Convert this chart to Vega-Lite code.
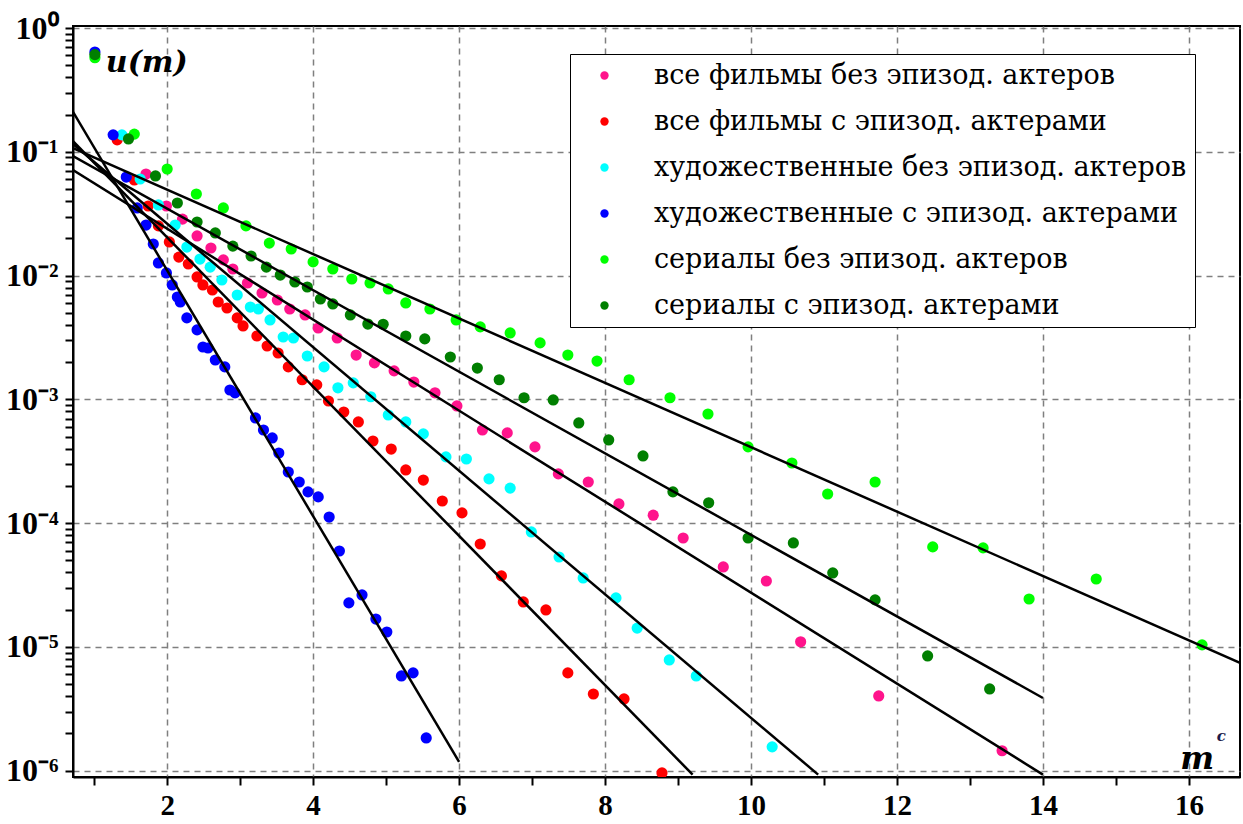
{
  "$schema": "https://vega.github.io/schema/vega-lite/v6.json",
  "width": 1167,
  "height": 751,
  "autosize": {"type": "none"},
  "padding": {"left": 73, "top": 26, "right": 3, "bottom": 47},
  "background": "white",
  "config": {"view": {"stroke": "black", "strokeWidth": 2}, "font": "Times New Roman"},
  "datasets": {
    "points": [
      {"s": "все фильмы без эпизод. актеров", "x": 1.71, "y": 0.0662},
      {"s": "все фильмы без эпизод. актеров", "x": 1.99, "y": 0.0365},
      {"s": "все фильмы без эпизод. актеров", "x": 2.21, "y": 0.0286},
      {"s": "все фильмы без эпизод. актеров", "x": 2.41, "y": 0.0209},
      {"s": "все фильмы без эпизод. актеров", "x": 2.60, "y": 0.0167},
      {"s": "все фильмы без эпизод. актеров", "x": 2.77, "y": 0.0134},
      {"s": "все фильмы без эпизод. актеров", "x": 2.90, "y": 0.0113},
      {"s": "все фильмы без эпизод. актеров", "x": 3.10, "y": 0.00871},
      {"s": "все фильмы без эпизод. актеров", "x": 3.30, "y": 0.00723},
      {"s": "все фильмы без эпизод. актеров", "x": 3.51, "y": 0.00635},
      {"s": "все фильмы без эпизод. актеров", "x": 3.68, "y": 0.00537},
      {"s": "все фильмы без эпизод. актеров", "x": 3.89, "y": 0.00481},
      {"s": "все фильмы без эпизод. актеров", "x": 4.07, "y": 0.00377},
      {"s": "все фильмы без эпизод. актеров", "x": 4.33, "y": 0.00313},
      {"s": "все фильмы без эпизод. актеров", "x": 4.59, "y": 0.00228},
      {"s": "все фильмы без эпизод. актеров", "x": 4.84, "y": 0.00197},
      {"s": "все фильмы без эпизод. актеров", "x": 5.11, "y": 0.00170},
      {"s": "все фильмы без эпизод. актеров", "x": 5.38, "y": 0.00138},
      {"s": "все фильмы без эпизод. актеров", "x": 5.67, "y": 0.00113},
      {"s": "все фильмы без эпизод. актеров", "x": 5.97, "y": 0.000885},
      {"s": "все фильмы без эпизод. актеров", "x": 6.32, "y": 0.000566},
      {"s": "все фильмы без эпизод. актеров", "x": 6.66, "y": 0.000536},
      {"s": "все фильмы без эпизод. актеров", "x": 7.04, "y": 0.000413},
      {"s": "все фильмы без эпизод. актеров", "x": 7.36, "y": 0.000250},
      {"s": "все фильмы без эпизод. актеров", "x": 7.77, "y": 0.000215},
      {"s": "все фильмы без эпизод. актеров", "x": 8.19, "y": 0.000143},
      {"s": "все фильмы без эпизод. актеров", "x": 8.66, "y": 0.000116},
      {"s": "все фильмы без эпизод. актеров", "x": 9.07, "y": 0.0000759},
      {"s": "все фильмы без эпизод. актеров", "x": 9.62, "y": 0.0000443},
      {"s": "все фильмы без эпизод. актеров", "x": 10.21, "y": 0.0000341},
      {"s": "все фильмы без эпизод. актеров", "x": 10.68, "y": 0.0000110},
      {"s": "все фильмы без эпизод. актеров", "x": 11.75, "y": 0.00000402},
      {"s": "все фильмы без эпизод. актеров", "x": 13.44, "y": 0.00000145},

      {"s": "все фильмы с эпизод. актерами", "x": 1.315, "y": 0.125},
      {"s": "все фильмы с эпизод. актерами", "x": 1.55, "y": 0.0592},
      {"s": "все фильмы с эпизод. актерами", "x": 1.74, "y": 0.0365},
      {"s": "все фильмы с эпизод. актерами", "x": 1.88, "y": 0.0252},
      {"s": "все фильмы с эпизод. актерами", "x": 2.03, "y": 0.0187},
      {"s": "все фильмы с эпизод. актерами", "x": 2.16, "y": 0.0141},
      {"s": "все фильмы с эпизод. актерами", "x": 2.29, "y": 0.0124},
      {"s": "все фильмы с эпизод. актерами", "x": 2.41, "y": 0.00975},
      {"s": "все фильмы с эпизод. актерами", "x": 2.49, "y": 0.00840},
      {"s": "все фильмы с эпизод. актерами", "x": 2.62, "y": 0.00765},
      {"s": "все фильмы с эпизод. актерами", "x": 2.70, "y": 0.00612},
      {"s": "все фильмы с эпизод. актерами", "x": 2.82, "y": 0.00547},
      {"s": "все фильмы с эпизод. актерами", "x": 2.96, "y": 0.00455},
      {"s": "все фильмы с эпизод. актерами", "x": 3.04, "y": 0.00392},
      {"s": "все фильмы с эпизод. актерами", "x": 3.23, "y": 0.00325},
      {"s": "все фильмы с эпизод. актерами", "x": 3.37, "y": 0.00270},
      {"s": "все фильмы с эпизод. актерами", "x": 3.52, "y": 0.00237},
      {"s": "все фильмы с эпизод. актерами", "x": 3.66, "y": 0.00183},
      {"s": "все фильмы с эпизод. актерами", "x": 3.85, "y": 0.00144},
      {"s": "все фильмы с эпизод. актерами", "x": 4.05, "y": 0.00131},
      {"s": "все фильмы с эпизод. актерами", "x": 4.21, "y": 0.000970},
      {"s": "все фильмы с эпизод. актерами", "x": 4.42, "y": 0.000791},
      {"s": "все фильмы с эпизод. актерами", "x": 4.62, "y": 0.000657},
      {"s": "все фильмы с эпизод. актерами", "x": 4.82, "y": 0.000461},
      {"s": "все фильмы с эпизод. актерами", "x": 5.07, "y": 0.000397},
      {"s": "все фильмы с эпизод. актерами", "x": 5.27, "y": 0.000269},
      {"s": "все фильмы с эпизод. актерами", "x": 5.51, "y": 0.000223},
      {"s": "все фильмы с эпизод. актерами", "x": 5.77, "y": 0.000151},
      {"s": "все фильмы с эпизод. актерами", "x": 6.04, "y": 0.000121},
      {"s": "все фильмы с эпизод. актерами", "x": 6.29, "y": 0.0000679},
      {"s": "все фильмы с эпизод. актерами", "x": 6.58, "y": 0.0000375},
      {"s": "все фильмы с эпизод. актерами", "x": 6.88, "y": 0.0000231},
      {"s": "все фильмы с эпизод. актерами", "x": 7.19, "y": 0.0000199},
      {"s": "все фильмы с эпизод. актерами", "x": 7.49, "y": 0.00000617},
      {"s": "все фильмы с эпизод. актерами", "x": 7.84, "y": 0.00000417},
      {"s": "все фильмы с эпизод. актерами", "x": 8.26, "y": 0.00000380},
      {"s": "все фильмы с эпизод. актерами", "x": 8.78, "y": 0.00000096},

      {"s": "художественные без эпизод. актеров", "x": 1.38, "y": 0.137},
      {"s": "художественные без эпизод. актеров", "x": 1.63, "y": 0.0603},
      {"s": "художественные без эпизод. актеров", "x": 1.88, "y": 0.0372},
      {"s": "художественные без эпизод. актеров", "x": 2.11, "y": 0.0256},
      {"s": "художественные без эпизод. актеров", "x": 2.27, "y": 0.0170},
      {"s": "художественные без эпизод. актеров", "x": 2.45, "y": 0.0136},
      {"s": "художественные без эпизод. актеров", "x": 2.59, "y": 0.0117},
      {"s": "художественные без эпизод. актеров", "x": 2.75, "y": 0.00921},
      {"s": "художественные без эпизод. актеров", "x": 2.96, "y": 0.00697},
      {"s": "художественные без эпизод. актеров", "x": 3.14, "y": 0.00557},
      {"s": "художественные без эпизод. актеров", "x": 3.25, "y": 0.00537},
      {"s": "художественные без эпизод. актеров", "x": 3.41, "y": 0.00438},
      {"s": "художественные без эпизод. актеров", "x": 3.59, "y": 0.00319},
      {"s": "художественные без эпизод. актеров", "x": 3.73, "y": 0.00313},
      {"s": "художественные без эпизод. актеров", "x": 3.92, "y": 0.00224},
      {"s": "художественные без эпизод. актеров", "x": 4.15, "y": 0.00183},
      {"s": "художественные без эпизод. актеров", "x": 4.34, "y": 0.00124},
      {"s": "художественные без эпизод. актеров", "x": 4.55, "y": 0.00136},
      {"s": "художественные без эпизод. актеров", "x": 4.79, "y": 0.00105},
      {"s": "художественные без эпизод. актеров", "x": 5.03, "y": 0.000748},
      {"s": "художественные без эпизод. актеров", "x": 5.27, "y": 0.000657},
      {"s": "художественные без эпизод. актеров", "x": 5.51, "y": 0.000526},
      {"s": "художественные без эпизод. актеров", "x": 5.82, "y": 0.000343},
      {"s": "художественные без эпизод. актеров", "x": 6.10, "y": 0.000330},
      {"s": "художественные без эпизод. актеров", "x": 6.41, "y": 0.000228},
      {"s": "художественные без эпизод. актеров", "x": 6.70, "y": 0.000192},
      {"s": "художественные без эпизод. актеров", "x": 6.99, "y": 0.0000849},
      {"s": "художественные без эпизод. актеров", "x": 7.37, "y": 0.0000533},
      {"s": "художественные без эпизод. актеров", "x": 7.70, "y": 0.0000361},
      {"s": "художественные без эпизод. актеров", "x": 8.15, "y": 0.0000249},
      {"s": "художественные без эпизод. актеров", "x": 8.44, "y": 0.0000142},
      {"s": "художественные без эпизод. актеров", "x": 8.88, "y": 0.00000785},
      {"s": "художественные без эпизод. актеров", "x": 9.25, "y": 0.00000583},
      {"s": "художественные без эпизод. актеров", "x": 10.29, "y": 0.00000156},

      {"s": "художественные с эпизод. актерами", "x": 1.01, "y": 0.64},
      {"s": "художественные с эпизод. актерами", "x": 1.26, "y": 0.137},
      {"s": "художественные с эпизод. актерами", "x": 1.44, "y": 0.0625},
      {"s": "художественные с эпизод. актерами", "x": 1.59, "y": 0.0352},
      {"s": "художественные с эпизод. актерами", "x": 1.71, "y": 0.0256},
      {"s": "художественные с эпизод. актерами", "x": 1.81, "y": 0.0180},
      {"s": "художественные с эпизод. актерами", "x": 1.88, "y": 0.01265},
      {"s": "художественные с эпизод. актерами", "x": 1.99, "y": 0.0105},
      {"s": "художественные с эпизод. актерами", "x": 2.07, "y": 0.00840},
      {"s": "художественные с эпизод. актерами", "x": 2.14, "y": 0.00671},
      {"s": "художественные с эпизод. актерами", "x": 2.18, "y": 0.00612},
      {"s": "художественные с эпизод. актерами", "x": 2.27, "y": 0.00455},
      {"s": "художественные с эпизод. актерами", "x": 2.41, "y": 0.00364},
      {"s": "художественные с эпизод. актерами", "x": 2.49, "y": 0.00265},
      {"s": "художественные с эпизод. актерами", "x": 2.56, "y": 0.00260},
      {"s": "художественные с эпизод. актерами", "x": 2.66, "y": 0.00208},
      {"s": "художественные с эпизод. актерами", "x": 2.79, "y": 0.00183},
      {"s": "художественные с эпизод. актерами", "x": 2.86, "y": 0.00119},
      {"s": "художественные с эпизод. актерами", "x": 2.93, "y": 0.00113},
      {"s": "художественные с эпизод. актерами", "x": 3.21, "y": 0.000708},
      {"s": "художественные с эпизод. актерами", "x": 3.32, "y": 0.000566},
      {"s": "художественные с эпизод. актерами", "x": 3.44, "y": 0.000488},
      {"s": "художественные с эпизод. актерами", "x": 3.53, "y": 0.000369},
      {"s": "художественные с эпизод. актерами", "x": 3.66, "y": 0.000259},
      {"s": "художественные с эпизод. актерами", "x": 3.81, "y": 0.000215},
      {"s": "художественные с эпизод. актерами", "x": 3.93, "y": 0.000179},
      {"s": "художественные с эпизод. актерами", "x": 4.07, "y": 0.000163},
      {"s": "художественные с эпизод. актерами", "x": 4.22, "y": 0.000112},
      {"s": "художественные с эпизод. актерами", "x": 4.36, "y": 0.0000596},
      {"s": "художественные с эпизод. актерами", "x": 4.49, "y": 0.0000227},
      {"s": "художественные с эпизод. актерами", "x": 4.67, "y": 0.0000263},
      {"s": "художественные с эпизод. актерами", "x": 4.86, "y": 0.0000168},
      {"s": "художественные с эпизод. актерами", "x": 5.01, "y": 0.0000132},
      {"s": "художественные с эпизод. актерами", "x": 5.21, "y": 0.00000583},
      {"s": "художественные с эпизод. актерами", "x": 5.37, "y": 0.00000617},
      {"s": "художественные с эпизод. актерами", "x": 5.55, "y": 0.00000184},

      {"s": "сериалы без эпизод. актеров", "x": 1.01, "y": 0.575},
      {"s": "сериалы без эпизод. актеров", "x": 1.55, "y": 0.139},
      {"s": "сериалы без эпизод. актеров", "x": 2.00, "y": 0.0726},
      {"s": "сериалы без эпизод. актеров", "x": 2.40, "y": 0.0456},
      {"s": "сериалы без эпизод. актеров", "x": 2.77, "y": 0.0352},
      {"s": "сериалы без эпизод. актеров", "x": 3.08, "y": 0.0252},
      {"s": "сериалы без эпизод. актеров", "x": 3.40, "y": 0.0183},
      {"s": "сериалы без эпизод. актеров", "x": 3.70, "y": 0.0164},
      {"s": "сериалы без эпизод. актеров", "x": 4.00, "y": 0.0129},
      {"s": "сериалы без эпизод. актеров", "x": 4.27, "y": 0.0113},
      {"s": "сериалы без эпизод. актеров", "x": 4.53, "y": 0.00939},
      {"s": "сериалы без эпизод. актеров", "x": 4.78, "y": 0.00871},
      {"s": "сериалы без эпизод. актеров", "x": 5.03, "y": 0.00780},
      {"s": "сериалы без эпизод. актеров", "x": 5.27, "y": 0.00601},
      {"s": "сериалы без эпизод. актеров", "x": 5.60, "y": 0.00537},
      {"s": "сериалы без эпизод. актеров", "x": 5.96, "y": 0.00438},
      {"s": "сериалы без эпизод. актеров", "x": 6.29, "y": 0.00385},
      {"s": "сериалы без эпизод. актеров", "x": 6.70, "y": 0.00344},
      {"s": "сериалы без эпизод. актеров", "x": 7.11, "y": 0.00286},
      {"s": "сериалы без эпизод. актеров", "x": 7.49, "y": 0.00228},
      {"s": "сериалы без эпизод. актеров", "x": 7.89, "y": 0.00204},
      {"s": "сериалы без эпизод. актеров", "x": 8.33, "y": 0.00144},
      {"s": "сериалы без эпизод. актеров", "x": 8.89, "y": 0.00103},
      {"s": "сериалы без эпизод. актеров", "x": 9.41, "y": 0.000762},
      {"s": "сериалы без эпизод. актеров", "x": 9.96, "y": 0.000413},
      {"s": "сериалы без эпизод. актеров", "x": 10.56, "y": 0.000306},
      {"s": "сериалы без эпизод. актеров", "x": 11.05, "y": 0.000172},
      {"s": "сериалы без эпизод. актеров", "x": 11.70, "y": 0.000215},
      {"s": "сериалы без эпизод. актеров", "x": 12.49, "y": 0.0000643},
      {"s": "сериалы без эпизод. актеров", "x": 13.18, "y": 0.0000631},
      {"s": "сериалы без эпизод. актеров", "x": 13.81, "y": 0.0000244},
      {"s": "сериалы без эпизод. актеров", "x": 14.73, "y": 0.0000354},
      {"s": "сериалы без эпизод. актеров", "x": 16.18, "y": 0.0000104},

      {"s": "сериалы с эпизод. актерами", "x": 1.01, "y": 0.61},
      {"s": "сериалы с эпизод. актерами", "x": 1.47, "y": 0.127},
      {"s": "сериалы с эпизод. актерами", "x": 1.84, "y": 0.0638},
      {"s": "сериалы с эпизод. актерами", "x": 2.14, "y": 0.0386},
      {"s": "сериалы с эпизод. актерами", "x": 2.41, "y": 0.0271},
      {"s": "сериалы с эпизод. актерами", "x": 2.66, "y": 0.0221},
      {"s": "сериалы с эпизод. актерами", "x": 2.90, "y": 0.0173},
      {"s": "сериалы с эпизод. актерами", "x": 3.15, "y": 0.0144},
      {"s": "сериалы с эпизод. актерами", "x": 3.36, "y": 0.0117},
      {"s": "сериалы с эпизод. актерами", "x": 3.55, "y": 0.0101},
      {"s": "сериалы с эпизод. актерами", "x": 3.75, "y": 0.00888},
      {"s": "сериалы с эпизод. актерами", "x": 3.92, "y": 0.00809},
      {"s": "сериалы с эпизод. актерами", "x": 4.10, "y": 0.00647},
      {"s": "сериалы с эпизод. актерами", "x": 4.27, "y": 0.00590},
      {"s": "сериалы с эпизод. актерами", "x": 4.51, "y": 0.00481},
      {"s": "сериалы с эпизод. актерами", "x": 4.75, "y": 0.00406},
      {"s": "сериалы с эпизод. актерами", "x": 4.96, "y": 0.00404},
      {"s": "сериалы с эпизод. актерами", "x": 5.27, "y": 0.00325},
      {"s": "сериалы с эпизод. актерами", "x": 5.53, "y": 0.00308},
      {"s": "сериалы с эпизод. актерами", "x": 5.88, "y": 0.00220},
      {"s": "сериалы с эпизод. актерами", "x": 6.25, "y": 0.00179},
      {"s": "сериалы с эпизод. актерами", "x": 6.55, "y": 0.00144},
      {"s": "сериалы с эпизод. актерами", "x": 6.89, "y": 0.00103},
      {"s": "сериалы с эпизод. актерами", "x": 7.29, "y": 0.000989},
      {"s": "сериалы с эпизод. актерами", "x": 7.64, "y": 0.000645},
      {"s": "сериалы с эпизод. актерами", "x": 8.05, "y": 0.000470},
      {"s": "сериалы с эпизод. актерами", "x": 8.52, "y": 0.000349},
      {"s": "сериалы с эпизод. актерами", "x": 8.93, "y": 0.000179},
      {"s": "сериалы с эпизод. актерами", "x": 9.42, "y": 0.000146},
      {"s": "сериалы с эпизод. актерами", "x": 9.96, "y": 0.0000759},
      {"s": "сериалы с эпизод. актерами", "x": 10.58, "y": 0.0000692},
      {"s": "сериалы с эпизод. актерами", "x": 11.12, "y": 0.0000396},
      {"s": "сериалы с эпизод. актерами", "x": 11.70, "y": 0.0000240},
      {"s": "сериалы с эпизод. актерами", "x": 12.42, "y": 0.00000846},
      {"s": "сериалы с эпизод. актерами", "x": 13.27, "y": 0.00000458}
    ],
    "fits": [
      {"fit": "b", "x": 0.71, "y": 0.21},
      {"fit": "b", "x": 6.0, "y": 0.00000118},
      {"fit": "r", "x": 0.71, "y": 0.122},
      {"fit": "r", "x": 9.2, "y": 0.00000093},
      {"fit": "c", "x": 0.71, "y": 0.1156},
      {"fit": "c", "x": 10.92, "y": 0.00000093},
      {"fit": "p", "x": 0.71, "y": 0.0713},
      {"fit": "p", "x": 14.0, "y": 0.00000093},
      {"fit": "d", "x": 0.71, "y": 0.0925},
      {"fit": "d", "x": 14.0, "y": 0.00000387},
      {"fit": "g", "x": 0.71, "y": 0.107},
      {"fit": "g", "x": 16.7, "y": 0.00000743}
    ]
  },
  "layer": [
    {
      "data": {"name": "points"},
      "mark": {"type": "point", "filled": true, "shape": "circle", "size": 125, "opacity": 1, "clip": true},
      "encoding": {
        "x": {
          "field": "x", "type": "quantitative",
          "scale": {"domain": [0.71, 16.7], "nice": false, "zero": false},
          "axis": {
            "title": null,
            "values": [1, 2, 3, 4, 5, 6, 7, 8, 9, 10, 11, 12, 13, 14, 15, 16],
            "format": "d",
            "labelExpr": "datum.value % 2 == 0 ? datum.label : ''",
            "labelOverlap": false,
            "labelFlush": false,
            "grid": true,
            "gridOpacity": {"condition": {"test": "datum.value % 2 == 0", "value": 1}, "value": 0},
            "gridColor": "#7f7f7f",
            "gridDash": [6, 5],
            "gridWidth": 1.5,
            "tickSize": 8,
            "tickColor": "black",
            "tickWidth": 2,
            "domainColor": "black",
            "domainWidth": 2,
            "labelFont": "Times New Roman",
            "labelFontSize": 29,
            "labelFontWeight": "bold",
            "labelColor": "black",
            "labelPadding": 6
          }
        },
        "y": {
          "field": "y", "type": "quantitative",
          "scale": {"type": "log", "domain": [8.9e-7, 1.038], "nice": false},
          "axis": {
            "title": null,
            "values": [1e-6, 2e-6, 3e-6, 4e-6, 5e-6, 6e-6, 7e-6, 8e-6, 9e-6,
                       1e-5, 2e-5, 3e-5, 4e-5, 5e-5, 6e-5, 7e-5, 8e-5, 9e-5,
                       1e-4, 2e-4, 3e-4, 4e-4, 5e-4, 6e-4, 7e-4, 8e-4, 9e-4,
                       0.001, 0.002, 0.003, 0.004, 0.005, 0.006, 0.007, 0.008, 0.009,
                       0.01, 0.02, 0.03, 0.04, 0.05, 0.06, 0.07, 0.08, 0.09,
                       0.1, 0.2, 0.3, 0.4, 0.5, 0.6, 0.7, 0.8, 0.9, 1],
            "labelExpr": "abs(log(datum.value)/LN10 - round(log(datum.value)/LN10)) < 0.001 ? '10' + ['⁰','⁻¹','⁻²','⁻³','⁻⁴','⁻⁵','⁻⁶'][round(-log(datum.value)/LN10)] : ''",
            "labelOverlap": false,
            "labelFlush": false,
            "grid": true,
            "gridOpacity": {"condition": {"test": "abs(log(datum.value)/LN10 - round(log(datum.value)/LN10)) < 0.001", "value": 1}, "value": 0},
            "gridColor": "#7f7f7f",
            "gridDash": [6, 5],
            "gridWidth": 1.5,
            "tickSize": 8,
            "tickColor": "black",
            "tickWidth": 2,
            "domainColor": "black",
            "domainWidth": 2,
            "labelFont": "Times New Roman",
            "labelFontSize": 32,
            "labelFontWeight": "bold",
            "labelColor": "black",
            "labelPadding": 7
          }
        },
        "color": {
          "field": "s", "type": "nominal",
          "scale": {
            "domain": ["все фильмы без эпизод. актеров", "все фильмы с эпизод. актерами", "художественные без эпизод. актеров", "художественные с эпизод. актерами", "сериалы без эпизод. актеров", "сериалы с эпизод. актерами"],
            "range": ["#ff148c", "#ff0000", "#00ffff", "#0000ff", "#00ff00", "#007f00"]
          },
          "legend": {
            "title": null,
            "orient": "none",
            "legendX": 497,
            "legendY": 28,
            "direction": "vertical",
            "strokeColor": "black",
            "fillColor": "white",
            "padding": 8,
            "symbolOffset": 13,
            "symbolType": "circle",
            "symbolSize": 70,
            "symbolStrokeWidth": 0,
            "labelFont": "DejaVu Serif",
            "labelFontSize": 27,
            "labelColor": "black",
            "labelOffset": 36,
            "labelLimit": 0,
            "rowPadding": 18
          }
        }
      }
    },
    {
      "data": {"name": "fits"},
      "mark": {"type": "line", "color": "black", "strokeWidth": 2.5, "clip": true},
      "encoding": {
        "x": {"field": "x", "type": "quantitative"},
        "y": {"field": "y", "type": "quantitative"},
        "detail": {"field": "fit", "type": "nominal"}
      }
    },
    {
      "data": {"values": [{}]},
      "mark": {"type": "text", "text": "u(m)", "font": "DejaVu Serif", "fontSize": 30, "fontWeight": "bold", "fontStyle": "italic", "align": "left", "baseline": "middle", "color": "black"},
      "encoding": {"x": {"datum": 1.16}, "y": {"datum": 0.52}}
    },
    {
      "data": {"values": [{}]},
      "mark": {"type": "text", "text": "m", "font": "DejaVu Serif", "fontSize": 32, "fontWeight": "bold", "fontStyle": "italic", "align": "left", "baseline": "alphabetic", "color": "black"},
      "encoding": {"x": {"datum": 15.88}, "y": {"datum": 0.00000104}}
    },
    {
      "data": {"values": [{}]},
      "mark": {"type": "text", "text": "c", "font": "DejaVu Serif", "fontSize": 15, "fontWeight": "bold", "fontStyle": "italic", "align": "left", "baseline": "alphabetic", "color": "#1a1a4a"},
      "encoding": {"x": {"datum": 16.38}, "y": {"datum": 0.00000175}}
    }
  ]
}
